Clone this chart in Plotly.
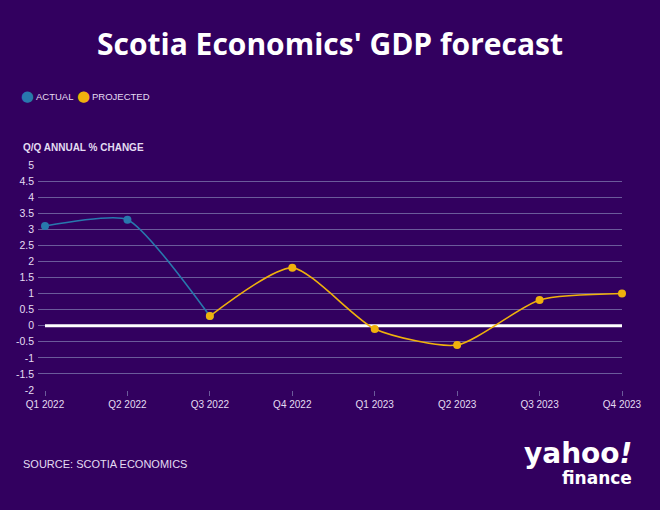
import plotly.graph_objects as go

quarters = ['Q1 2022', 'Q2 2022', 'Q3 2022', 'Q4 2022',
            'Q1 2023', 'Q2 2023', 'Q3 2023', 'Q4 2023']
actual_q = ['Q1 2022', 'Q2 2022', 'Q3 2022']
actual_vals = [3.1, 3.3, 0.3]
proj_q = ['Q3 2022', 'Q4 2022', 'Q1 2023', 'Q2 2023', 'Q3 2023', 'Q4 2023']
proj_vals = [0.3, 1.8, -0.1, -0.6, 0.8, 1.0]
y_ticks = [5, 4.5, 4, 3.5, 3, 2.5, 2, 1.5, 1, 0.5, 0, -0.5, -1, -1.5, -2]

bg = '#32005f'
blue = '#2878ad'
yellow = '#f0b10c'
label_col = '#e4dcf2'
font_main = 'Liberation Sans, Arial, sans-serif'

xpos = {q: i for i, q in enumerate(quarters)}

fig = go.Figure()

# zero line
fig.add_trace(go.Scatter(
    x=[0, len(quarters) - 1], y=[0, 0], mode='lines',
    line=dict(color='#ffffff', width=3), showlegend=False, hoverinfo='skip'))

fig.add_trace(go.Scatter(
    x=[xpos[q] for q in actual_q], y=actual_vals, name='ACTUAL',
    mode='lines+markers', line=dict(color=blue, width=1.6, shape='spline', smoothing=0.55),
    marker=dict(color=blue, size=8), cliponaxis=False, showlegend=False))

fig.add_trace(go.Scatter(
    x=[xpos[q] for q in proj_q], y=proj_vals, name='PROJECTED',
    mode='lines+markers', line=dict(color=yellow, width=1.6, shape='spline', smoothing=0.65),
    marker=dict(color=yellow, size=8), cliponaxis=False, showlegend=False))


def px_x(p):
    return (p - 38) / 584


def px_y(p):
    return (390 - p) / 225


legend_items = [('ACTUAL', blue, 27), ('PROJECTED', yellow, 83)]
annos = []
for label, col, cx in legend_items:
    annos.append(dict(text='●', xref='paper', yref='paper', x=px_x(cx), y=px_y(96.5),
                      xanchor='center', yanchor='middle', showarrow=False,
                      font=dict(family='DejaVu Sans, sans-serif', size=15, color=col)))
    annos.append(dict(text=label, xref='paper', yref='paper', x=px_x(cx + 7), y=px_y(96),
                      xanchor='left', yanchor='middle', showarrow=False,
                      font=dict(family=font_main, size=9.5, color=label_col)))

annos += [
    dict(text='<b>Q/Q ANNUAL % CHANGE</b>', xref='paper', yref='paper',
         x=px_x(21), y=px_y(147), xanchor='left', yanchor='middle', showarrow=False,
         font=dict(family=font_main, size=10, color=label_col)),
    dict(text='SOURCE: SCOTIA ECONOMICS', xref='paper', yref='paper',
         x=px_x(21), y=px_y(464), xanchor='left', yanchor='middle', showarrow=False,
         font=dict(family=font_main, size=11, color=label_col)),
    dict(text='<b>yahoo<i>!</i></b>', xref='paper', yref='paper',
         x=px_x(634), y=px_y(453), xanchor='right', yanchor='middle', showarrow=False,
         font=dict(family='DejaVu Sans, sans-serif', size=28, color='#ffffff')),
    dict(text='<b>finance</b>', xref='paper', yref='paper',
         x=px_x(634), y=px_y(478), xanchor='right', yanchor='middle', showarrow=False,
         font=dict(family='DejaVu Sans, sans-serif', size=17, color='#ffffff')),
]

fig.update_layout(
    width=660, height=510,
    paper_bgcolor=bg, plot_bgcolor=bg,
    margin=dict(l=38, r=38, t=165, b=120),
    font=dict(family=font_main, color=label_col, size=10),
    title=dict(text="<b>Scotia Economics' GDP forecast</b>", x=0.5, xanchor='center',
               y=0.912, yanchor='middle',
               font=dict(family='Open Sans, Arial, sans-serif', size=30, color='#ffffff')),
    showlegend=False,
    xaxis=dict(range=[-0.085, 7], tickvals=list(range(len(quarters))), ticktext=quarters,
               showgrid=False, zeroline=False, showline=False,
               ticks='outside', ticklen=5, tickcolor='#6b5a9b',
               tickfont=dict(family=font_main, size=10, color=label_col)),
    yaxis=dict(range=[-2, 5], tickvals=y_ticks, ticktext=[str(v) for v in y_ticks],
               showgrid=True, gridcolor='#6b5a9b', gridwidth=1, zeroline=False,
               ticks='', ticklabelstandoff=3,
               tickfont=dict(family=font_main, size=10.5, color=label_col)),
    annotations=annos,
)

fig.write_html('out.html', config={'displayModeBar': False},
               post_script="document.body.style.margin='0';"
                           "document.body.style.overflow='hidden';")
